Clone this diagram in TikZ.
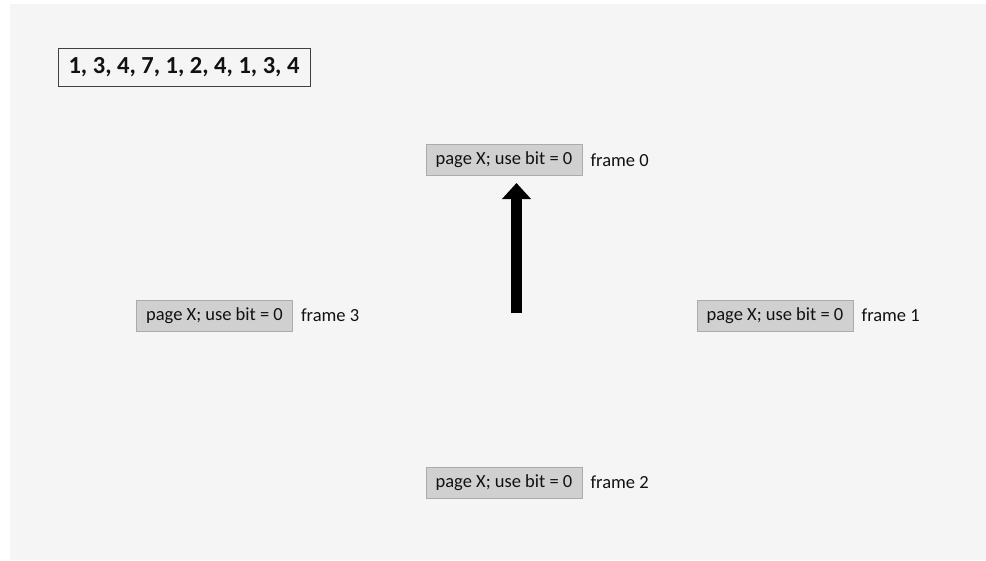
\documentclass[tikz,border=0pt]{standalone}
\usepackage{fontspec}
\setmainfont{Carlito}
\usetikzlibrary{arrows.meta}
\definecolor{bgc}{HTML}{F5F5F5}
\definecolor{boxfill}{HTML}{D0D0D0}
\definecolor{boxline}{HTML}{ABABAB}
\definecolor{txt}{HTML}{111111}
\tikzset{
  pagebox/.style={draw=boxline, fill=boxfill, line width=0.8pt, minimum width=156pt, minimum height=31pt, inner sep=0pt, text=txt, font=\fontsize{18.5}{20}\selectfont},
  framelbl/.style={anchor=west, inner sep=0pt, text=txt, font=\fontsize{18.5}{20}\selectfont},
  seqbox/.style={draw=black!75, line width=0.8pt, minimum width=252pt, minimum height=38pt, inner sep=0pt, text=txt, font=\fontsize{24.5}{26}\selectfont\bfseries},
  bigarrow/.style={line width=11pt, -{Triangle[width=28pt,length=16pt]}}
}
\begin{document}
\begin{tikzpicture}[x=1pt,y=-1pt]
\useasboundingbox (0,0) rectangle (986,560);
\fill[bgc] (10,4) rectangle (986,560);
\node[seqbox] (seq) at (184,67) {1, 3, 4, 7, 1, 2, 4, 1, 3, 4};
\node[pagebox] (f0) at (504,160) {page X; use bit = 0};
\node[framelbl] (l0) at ([xshift=8pt]f0.east) {frame 0};
\node[pagebox] (f1) at (775,315.5) {page X; use bit = 0};
\node[framelbl] (l1) at ([xshift=8pt]f1.east) {frame 1};
\node[pagebox] (f2) at (504,482.5) {page X; use bit = 0};
\node[framelbl] (l2) at ([xshift=8pt]f2.east) {frame 2};
\node[pagebox] (f3) at (214.5,315.5) {page X; use bit = 0};
\node[framelbl] (l3) at ([xshift=8pt]f3.east) {frame 3};
\coordinate (abase) at (516.5,313);
\coordinate (atip) at (516.5,183);
\draw[bigarrow] (abase) -- (atip);
\end{tikzpicture}
\end{document}
